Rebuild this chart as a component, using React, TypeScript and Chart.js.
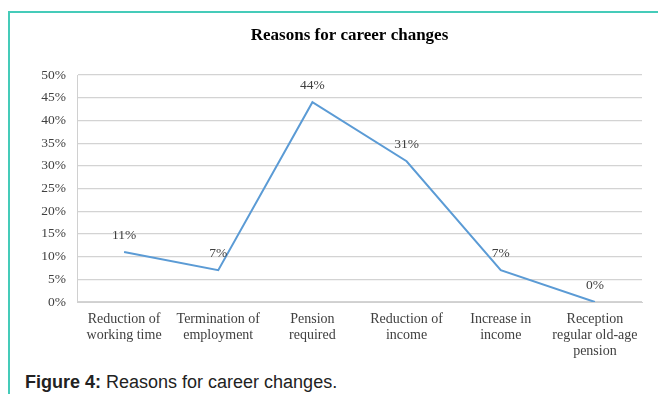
import React, { useEffect, useRef } from "react";
import { Chart, registerables } from "chart.js";

Chart.register(...registerables);

const categories: string[][] = [
  ["Reduction of", "working time"],
  ["Termination of", "employment"],
  ["Pension", "required"],
  ["Reduction of", "income"],
  ["Increase in", "income"],
  ["Reception", "regular old-age", "pension"],
];
const values: number[] = [11, 7, 44, 31, 7, 0];
const yTicks: number[] = [0, 5, 10, 15, 20, 25, 30, 35, 40, 45, 50];
const chartTitle = "Reasons for career changes";

const SERIF = "'Liberation Serif', 'Times New Roman', serif";

const dataLabels = {
  id: "dataLabels",
  afterDatasetsDraw(chart: any) {
    const ctx = chart.ctx;
    const meta = chart.getDatasetMeta(0);
    ctx.save();
    ctx.font = `13.5px ${SERIF}`;
    ctx.fillStyle = "#404040";
    ctx.textAlign = "center";
    ctx.textBaseline = "middle";
    meta.data.forEach((pt: any, i: number) => {
      ctx.fillText(values[i] + "%", pt.x, pt.y - 17);
    });
    ctx.restore();
  },
};

const titlePlugin = {
  id: "customTitle",
  afterDraw(chart: any) {
    const ctx = chart.ctx;
    const area = chart.chartArea;
    ctx.save();
    ctx.font = `bold 17px ${SERIF}`;
    ctx.fillStyle = "#000000";
    ctx.textAlign = "center";
    ctx.textBaseline = "middle";
    ctx.fillText(chartTitle, (area.left + area.right) / 2 - 10, area.top - 39);
    ctx.restore();
  },
};

export default function App() {
  const ref = useRef<HTMLCanvasElement>(null);
  useEffect(() => {
    if (!ref.current) return;
    const chart = new Chart(ref.current, {
      type: "line",
      data: {
        labels: categories,
        datasets: [
          {
            data: values,
            borderColor: "#5b9bd5",
            borderWidth: 2,
            pointRadius: 0,
            tension: 0,
            fill: false,
          },
        ],
      },
      options: {
        animation: false,
        responsive: false,
        maintainAspectRatio: false,
        layout: { padding: { left: 0, right: 16, top: 75, bottom: 0 } },
        plugins: {
          legend: { display: false },
          tooltip: { enabled: false },
          title: { display: false },
        },
        scales: {
          x: {
            offset: true,
            grid: { display: false, drawTicks: false },
            border: { display: true, color: "#d0d0d0", width: 1 },
            ticks: {
              color: "#404040",
              font: { family: SERIF, size: 14, lineHeight: 1.14 },
              maxRotation: 0,
              autoSkip: false,
              padding: 9,
            },
            afterFit(scale: any) {
              scale.height = 63;
            },
          },
          y: {
            min: 0,
            max: 50,
            afterBuildTicks(scale: any) {
              scale.ticks = yTicks.map((v) => ({ value: v }));
            },
            grid: { color: "#d3d3d3", lineWidth: 1.2, drawTicks: false },
            border: { display: true, color: "#d0d0d0", width: 1 },
            ticks: {
              color: "#404040",
              font: { family: SERIF, size: 13.5 },
              padding: 11,
              callback: (v: any) => v + "%",
            },
            afterFit(scale: any) {
              scale.width = 77;
            },
          },
        },
      },
      plugins: [dataLabels, titlePlugin],
    });
    return () => chart.destroy();
  }, []);

  return (
    <div style={{ position: "absolute", left: 0, top: 0, width: 658, height: 394, overflow: "hidden", background: "#fff" }}>
      <div
        style={{
          position: "absolute",
          left: 8,
          top: 11,
          width: 700,
          height: 500,
          borderLeft: "2px solid #45cbb9",
          borderTop: "2px solid #45cbb9",
        }}
      />
      <canvas ref={ref} width={658} height={365} style={{ position: "absolute", left: 0, top: 0, width: 658, height: 365 }} />
      <div
        style={{
          position: "absolute",
          left: 25,
          top: 372,
          fontFamily: "'Liberation Sans', Arial, sans-serif",
          fontSize: 18,
          color: "#222",
          whiteSpace: "nowrap",
          lineHeight: "20px",
        }}
      >
        <b>Figure 4:</b> Reasons for career changes.
      </div>
    </div>
  );
}
